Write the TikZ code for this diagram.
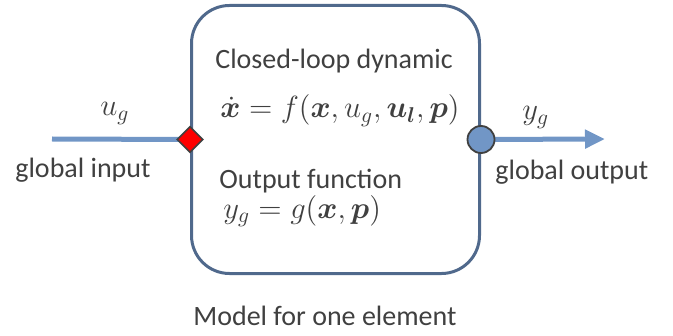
\RequirePackage{fix-cm}
\documentclass[tikz,border=0pt]{standalone}
\usepackage{amsmath, amssymb, bm}
\usepackage[no-math]{fontspec}
\setmainfont{Carlito}
\usepackage{xcolor}
\usetikzlibrary{shapes.geometric, positioning, arrows.meta}

\definecolor{linkblue}{HTML}{7196C6}
\definecolor{framegray}{HTML}{50698C}
\definecolor{txtgray}{HTML}{404040}

\begin{document}
\begin{tikzpicture}[
        x=0.5pt, y=-0.5pt,
        element/.style={draw=framegray, line width=1.5pt, rounded corners=19pt, minimum width=144pt, minimum height=134pt},
        txt/.style={text=txtgray, font=\fontsize{14}{16}\selectfont, inner sep=0pt},
        eq/.style={text=txtgray, font=\fontsize{15.3}{17}\selectfont, inner sep=0pt},
        inport/.style={diamond, draw=darkgray, fill=red, line width=0.8pt, minimum size=13pt, inner sep=0pt},
        outport/.style={circle, draw=darkgray, fill=linkblue, line width=0.9pt, minimum size=13.5pt, inner sep=0pt},
        link/.style={draw=linkblue, line width=2.5pt}
    ]
    \useasboundingbox (0,0) rectangle (673,336);

    % Element block
    \node[element] (model) at (335.5,139.5) {};
    \node[txt, anchor=base west] (cld) at (215,69) {Closed-loop dynamic};
    \node[eq, anchor=base west] (fdyn) at (220,118) {$\dot{\bm{x}} = f(\bm{x}, u_g, \bm{u}_{\bm{l}}, \bm{p})$};
    \node[txt, anchor=base west] (ofn) at (219,189) {Output function};
    \node[eq, anchor=base west] (gout) at (223,218) {$y_g = g(\bm{x}, \bm{p})$};
    \node[txt, anchor=base west] (caption) at (193,325) {Model for one element};

    % Input side
    \coordinate (src) at (52,139);
    \draw[link] (src) -- (model.west);
    \node[inport] (uin) at (model.west) {};
    \node[eq, anchor=base west] (ug) at (100,116) {$u_g$};
    \node[txt, anchor=base west] (gin) at (15,177) {global input};

    % Output side
    \coordinate (dst) at (605,139);
    \draw[link, -{Triangle[length=10pt, width=9pt]}] (model.east) -- (dst);
    \node[outport] (yout) at (model.east) {};
    \node[eq, anchor=base west] (yg) at (522,120) {$y_g$};
    \node[txt, anchor=base west] (gouttxt) at (495,180) {global output};

\end{tikzpicture}
\end{document}
